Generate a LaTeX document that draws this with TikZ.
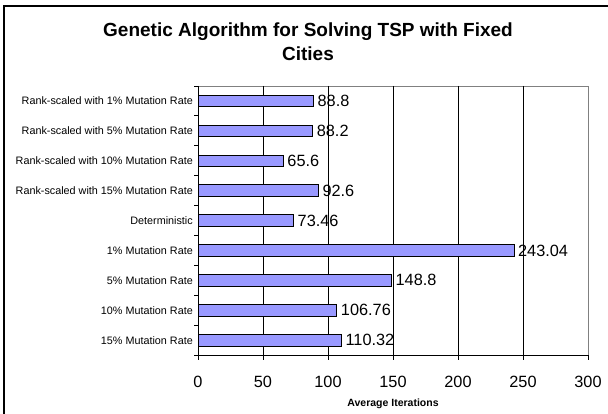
\documentclass[tikz,border=0pt]{standalone}
\usepackage{fontspec}
\setmainfont{Liberation Sans}
\usetikzlibrary{calc}
\definecolor{barblue}{HTML}{9999FF}
\definecolor{plotgrey}{HTML}{808080}

\begin{document}
\begin{tikzpicture}[x=1pt,y=-1pt,
        bar/.style={draw=black, line width=0.8pt, fill=barblue, minimum height=11.5pt,
            inner sep=0pt, outer sep=0pt, anchor=west},
        catlabel/.style={anchor=east, inner sep=0pt, font=\fontsize{10.8}{12}\selectfont},
        vallabel/.style={anchor=west, inner sep=0pt, font=\fontsize{16.3}{18}\selectfont},
        ticklabel/.style={anchor=base, inner sep=0pt, font=\fontsize{16.3}{18}\selectfont}]

        \useasboundingbox (0,0) rectangle (608,414);

        % Frame
        \draw [line width=1.2pt] (4,6) rectangle (640,440);

        % Title
        \node (title) at (308,37) [anchor=base, font=\fontsize{19}{22}\bfseries\selectfont]
            {Genetic Algorithm for Solving TSP with Fixed};
        \node (title_2) at ($(title.base) + (0,24)$) [anchor=base, font=\fontsize{19}{22}\bfseries\selectfont]
            {Cities};

        % Plot area
        \coordinate (TL) at (198,86);
        \coordinate (BR) at (588,355);
        \draw [plotgrey, line width=0.8pt] (TL) -- (BR |- TL) -- (BR);

        % Grid lines
        \draw [line width=0.75pt] (263,86) -- (263,355);
        \draw [line width=0.75pt] (328,86) -- (328,355);
        \draw [line width=0.75pt] (393,86) -- (393,355);
        \draw [line width=0.75pt] (458,86) -- (458,355);
        \draw [line width=0.75pt] (523,86) -- (523,355);

        % Bars
        \node (rank1) at ($(TL) + (0,14.95)$) [bar, minimum width=115.44pt] {};
        \node (rank5) at ($(rank1.west) + (0,29.9)$) [bar, minimum width=114.66pt] {};
        \node (rank10) at ($(rank5.west) + (0,29.9)$) [bar, minimum width=85.28pt] {};
        \node (rank15) at ($(rank10.west) + (0,29.9)$) [bar, minimum width=120.38pt] {};
        \node (determ) at ($(rank15.west) + (0,29.9)$) [bar, minimum width=95.5pt] {};
        \node (mut1) at ($(determ.west) + (0,29.9)$) [bar, minimum width=315.95pt] {};
        \node (mut5) at ($(mut1.west) + (0,29.9)$) [bar, minimum width=193.44pt] {};
        \node (mut10) at ($(mut5.west) + (0,29.9)$) [bar, minimum width=138.79pt] {};
        \node (mut15) at ($(mut10.west) + (0,29.9)$) [bar, minimum width=143.42pt] {};

        % Category labels
        \node (rank1_lbl) at ($(rank1.west) + (-5,0)$) [catlabel] {Rank-scaled with 1\% Mutation Rate};
        \node (rank5_lbl) at ($(rank5.west) + (-5,0)$) [catlabel] {Rank-scaled with 5\% Mutation Rate};
        \node (rank10_lbl) at ($(rank10.west) + (-5,0)$) [catlabel] {Rank-scaled with 10\% Mutation Rate};
        \node (rank15_lbl) at ($(rank15.west) + (-5,0)$) [catlabel] {Rank-scaled with 15\% Mutation Rate};
        \node (determ_lbl) at ($(determ.west) + (-5,0)$) [catlabel] {Deterministic};
        \node (mut1_lbl) at ($(mut1.west) + (-5,0)$) [catlabel] {1\% Mutation Rate};
        \node (mut5_lbl) at ($(mut5.west) + (-5,0)$) [catlabel] {5\% Mutation Rate};
        \node (mut10_lbl) at ($(mut10.west) + (-5,0)$) [catlabel] {10\% Mutation Rate};
        \node (mut15_lbl) at ($(mut15.west) + (-5,0)$) [catlabel] {15\% Mutation Rate};

        % Values
        \node (rank1_val) at ($(rank1.east) + (4,0)$) [vallabel] {88.8};
        \node (rank5_val) at ($(rank5.east) + (4,0)$) [vallabel] {88.2};
        \node (rank10_val) at ($(rank10.east) + (4,0)$) [vallabel] {65.6};
        \node (rank15_val) at ($(rank15.east) + (4,0)$) [vallabel] {92.6};
        \node (determ_val) at ($(determ.east) + (4,0)$) [vallabel] {73.46};
        \node (mut1_val) at ($(mut1.east) + (4,0)$) [vallabel] {243.04};
        \node (mut5_val) at ($(mut5.east) + (4,0)$) [vallabel] {148.8};
        \node (mut10_val) at ($(mut10.east) + (4,0)$) [vallabel] {106.76};
        \node (mut15_val) at ($(mut15.east) + (4,0)$) [vallabel] {110.32};

        % Axes and ticks
        \draw [line width=0.8pt] (TL) -- (198,360);
        \draw [line width=0.8pt] (194,355) -- (BR);
        \draw [line width=0.8pt] (194,86) -- (198,86) (194,115.9) -- (198,115.9)
            (194,145.8) -- (198,145.8) (194,175.7) -- (198,175.7)
            (194,205.6) -- (198,205.6) (194,235.5) -- (198,235.5)
            (194,265.4) -- (198,265.4) (194,295.3) -- (198,295.3)
            (194,325.2) -- (198,325.2);
        \draw [line width=0.8pt] (263,355) -- (263,360) (328,355) -- (328,360)
            (393,355) -- (393,360) (458,355) -- (458,360)
            (523,355) -- (523,360) (588,355) -- (588,360);

        % Tick labels
        \node (t0) at (198,387) [ticklabel] {0};
        \node (t50) at ($(t0.base) + (65,0)$) [ticklabel] {50};
        \node (t100) at ($(t50.base) + (65,0)$) [ticklabel] {100};
        \node (t150) at ($(t100.base) + (65,0)$) [ticklabel] {150};
        \node (t200) at ($(t150.base) + (65,0)$) [ticklabel] {200};
        \node (t250) at ($(t200.base) + (65,0)$) [ticklabel] {250};
        \node (t300) at ($(t250.base) + (65,0)$) [ticklabel] {300};

        % Axis title
        \node (xtitle) at (393,406) [anchor=base, font=\fontsize{10.5}{12}\bfseries\selectfont]
            {Average Iterations};

    \end{tikzpicture}
\end{document}
